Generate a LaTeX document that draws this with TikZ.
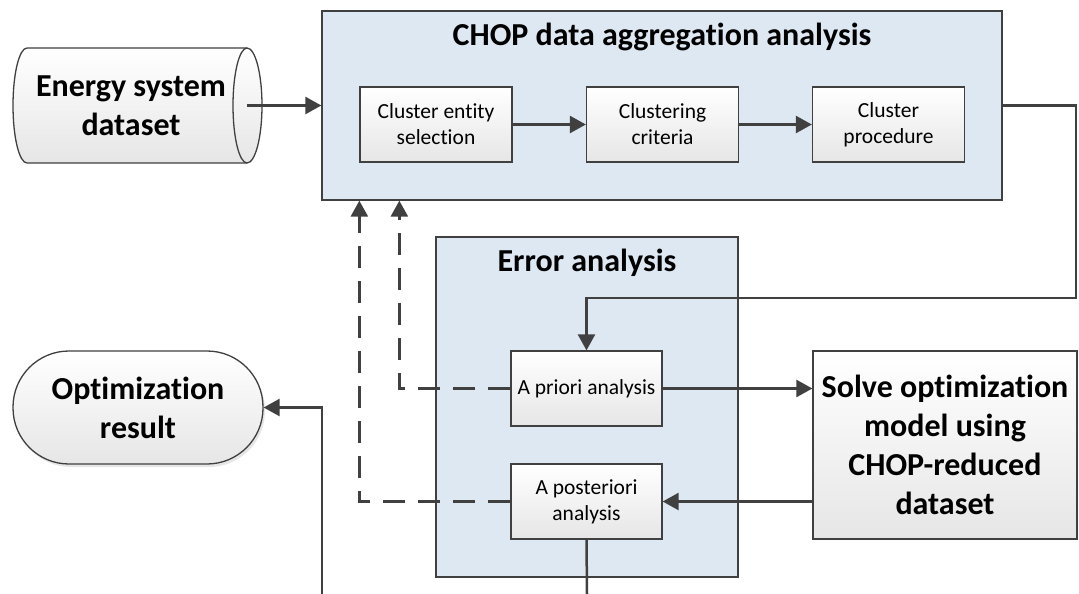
\documentclass[tikz,border=0pt]{standalone}
\usepackage{fontspec}
\setmainfont{Carlito}[Ligatures=NoCommon]
\usetikzlibrary{arrows.meta,shadows,positioning,calc}
\definecolor{linegray}{HTML}{404040}
\definecolor{panelblue}{HTML}{DEE8F2}
\definecolor{boxlow}{HTML}{E6E6E6}
\tikzset{
  panel/.style={draw=linegray, line width=1.3pt, fill=panelblue, inner sep=0pt},
  stepbox/.style={draw=linegray, line width=1.3pt, top color=white, bottom color=boxlow,
    align=center, inner sep=0pt, font=\fontsize{21.5}{26}\selectfont},
  bigtext/.style={font=\fontsize{32}{39}\selectfont\bfseries, align=center},
  flow/.style={draw=linegray, line width=2.5pt, -{Triangle[length=16pt,width=17pt]}},
  plain/.style={draw=linegray, line width=2.5pt},
  feedback/.style={draw=linegray, line width=2.5pt, dash pattern=on 22pt off 13pt,
    -{Triangle[length=16pt,width=17pt]}},
}
\begin{document}
\begin{tikzpicture}[x=1pt,y=-1pt]
\useasboundingbox (0,0) rectangle (1079,594);

% data source drawn as a horizontal cylinder
\path[draw=linegray, line width=1.3pt, top color=white, bottom color=boxlow]
  (27,48) -- (247,48)
  arc[start angle=90, end angle=-90, x radius=15pt, y radius=57.5pt]
  -- (27,163)
  arc[start angle=270, end angle=90, x radius=14pt, y radius=57.5pt] -- cycle;
\draw[linegray, line width=1.3pt] (247,48)
  arc[start angle=90, end angle=270, x radius=14pt, y radius=57.5pt];
\node[bigtext] (data) at (131,105.5) {Energy system\\dataset};
\coordinate (dataout) at (247,105.5);

% aggregation panel
\node[panel, minimum width=680pt, minimum height=189pt] (chop) at (662,105.5) {};
\node[bigtext] (choptitle) at (662,37) {CHOP data aggregation analysis};
\node[stepbox, minimum width=152pt, minimum height=75pt] (c1) at (436,124.5) {Cluster entity\\selection};
\node[stepbox, minimum width=152pt, minimum height=75pt] (c2) at (662.5,124.5) {Clustering\\criteria};
\node[stepbox, minimum width=152pt, minimum height=75pt] (c3) at (888.5,124.5) {Cluster\\procedure};

% error analysis panel
\node[panel, minimum width=302pt, minimum height=340pt] (err) at (587,407) {};
\node[bigtext] (errtitle) at (587,263) {Error analysis};
\node[stepbox, minimum width=151pt, minimum height=75pt] (pri) at (586.5,388.5) {A priori analysis};
\node[stepbox, minimum width=151pt, minimum height=75pt] (post) at (586.5,501.5) {A posteriori\\analysis};

% solver and result
\node[draw=linegray, line width=1.3pt, top color=white, bottom color=boxlow,
  minimum width=264pt, minimum height=188pt, inner sep=0pt, bigtext] (solve) at (945,445)
  {Solve optimization\\model using\\CHOP-reduced\\dataset};
\node[draw=linegray, line width=1.3pt, top color=white, bottom color=boxlow,
  rounded corners=56pt, minimum width=250pt, minimum height=113pt, inner sep=0pt, bigtext,
  drop shadow={opacity=0.2, shadow xshift=2pt, shadow yshift=-3pt}] (opt) at (138,407.5)
  {Optimization\\result};

% connectors
\coordinate (bendR) at (1076,298);
\coordinate (postout) at (587,594);
\coordinate (resin) at (322,594);
\draw[flow] (dataout) -- (chop.west);
\draw[flow] (c1) -- (c2);
\draw[flow] (c2) -- (c3);
\draw[flow] (chop.east) -| (bendR) -| (pri.north);
\draw[flow] (pri.east) -- (pri.east -| solve.west);
\draw[flow] (solve.west |- post) -- (post.east);
\draw[feedback] (pri.west) -| ([xshift=78pt]chop.south west);
\draw[feedback] (post.west) -| ([xshift=38pt]chop.south west);
\draw[plain] (post.south) -- (postout);
\draw[flow] (resin) |- (opt.east);
\end{tikzpicture}
\end{document}
